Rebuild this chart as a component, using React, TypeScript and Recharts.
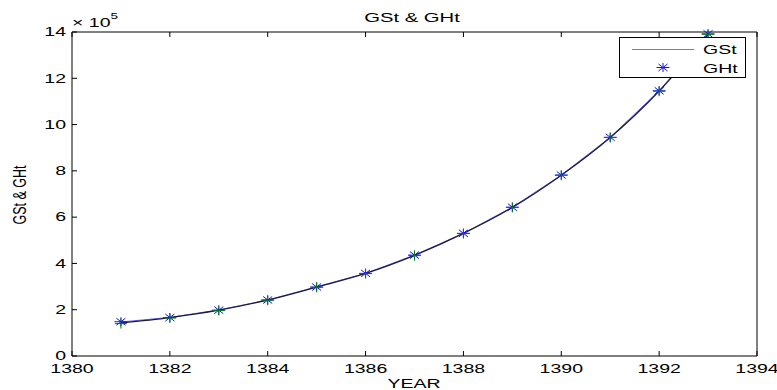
import React from "react";
import { LineChart, Line, XAxis, YAxis } from "recharts";

// values in units of 1e5
const years = [1381, 1382, 1383, 1384, 1385, 1386, 1387, 1388, 1389, 1390, 1391, 1392, 1393];
const gst = [1.47, 1.67, 1.99, 2.42, 2.99, 3.57, 4.36, 5.3, 6.43, 7.82, 9.45, 11.46, 13.91];
const ght = [1.48, 1.66, 1.98, 2.42, 2.98, 3.57, 4.36, 5.3, 6.43, 7.82, 9.45, 11.46, 13.92];
const fitted = [1.43, 1.66, 1.98, 2.42, 2.98, 3.57, 4.35, 5.3, 6.42, 7.81, 9.44, 11.45, 13.9];
const observed = [1.4, 1.64, 1.97, 2.41, 2.97, 3.56, 4.34, 5.29, 6.42, 7.81, 9.44, 11.44, 13.9];

const xTicks = [1380, 1382, 1384, 1386, 1388, 1390, 1392, 1394];
const yTicks = [0, 2, 4, 6, 8, 10, 12, 14];

const data = years.map((year, i) => ({
  year,
  gst: gst[i],
  ght: ght[i],
  fitted: fitted[i],
  observed: observed[i],
}));

const FONT = "'Liberation Sans', Arial, Helvetica, sans-serif";
const TICK = 5;
const SX = 1.5; // the original figure is stretched horizontally

const BottomTick = (props: any) => {
  const { x, y, payload } = props;
  return (
    <g>
      <line x1={x} x2={x} y1={y} y2={y - TICK} stroke="#000" />
      <text
        transform={`translate(${x},${y + 16.5}) scale(${SX},1)`}
        textAnchor="middle"
        fontSize={13}
        fontFamily={FONT}
        fill="#000"
      >
        {payload.value}
      </text>
    </g>
  );
};

const TopTick = (props: any) => {
  const { x, y } = props;
  return <line x1={x} x2={x} y1={y} y2={y + TICK} stroke="#000" />;
};

const LeftTick = (props: any) => {
  const { x, y, payload } = props;
  return (
    <g>
      <line x1={x} x2={x + TICK} y1={y} y2={y} stroke="#000" />
      <text
        transform={`translate(${x - 6},${y + 4.3}) scale(${SX},1)`}
        textAnchor="end"
        fontSize={13}
        fontFamily={FONT}
        fill="#000"
      >
        {payload.value}
      </text>
    </g>
  );
};

const RightTick = (props: any) => {
  const { x, y } = props;
  return <line x1={x} x2={x - TICK} y1={y} y2={y} stroke="#000" />;
};

const Star = ({ cx, cy, color = "#1010ff" }: { cx: number; cy: number; color?: string }) => (
  <g stroke={color} strokeWidth={1}>
    <line x1={cx - 6.5} x2={cx + 6.5} y1={cy} y2={cy} />
    <line x1={cx} x2={cx} y1={cy - 4.5} y2={cy + 4.5} />
    <line x1={cx - 4.5} x2={cx + 4.5} y1={cy - 3.5} y2={cy + 3.5} />
    <line x1={cx - 4.5} x2={cx + 4.5} y1={cy + 3.5} y2={cy - 3.5} />
  </g>
);

const Plus = ({ cx, cy }: { cx: number; cy: number }) => (
  <g stroke="#007a00" strokeWidth={1}>
    <line x1={cx - 6} x2={cx + 6} y1={cy} y2={cy} />
    <line x1={cx} x2={cx} y1={cy - 5} y2={cy + 5} />
  </g>
);

const App = () => {
  return (
    <div style={{ position: "absolute", left: 0, top: 0, width: 777, height: 390, background: "#fff" }}>
      <LineChart
        width={777}
        height={390}
        data={data}
        margin={{ top: 31, right: 19, left: 12, bottom: 0 }}
      >
        <XAxis
          dataKey="year"
          type="number"
          domain={[1380, 1394]}
          ticks={xTicks}
          interval={0}
          height={34}
          tickSize={0}
          tickMargin={0}
          tick={BottomTick}
          axisLine={{ stroke: "#000" }}
        />
        <XAxis
          xAxisId="top"
          orientation="top"
          dataKey="year"
          type="number"
          domain={[1380, 1394]}
          ticks={xTicks}
          interval={0}
          height={1}
          tickSize={0}
          tickMargin={0}
          tick={TopTick}
          axisLine={{ stroke: "#000" }}
        />
        <YAxis
          type="number"
          domain={[0, 14]}
          ticks={yTicks}
          interval={0}
          width={60}
          tickSize={0}
          tickMargin={0}
          tick={LeftTick}
          axisLine={{ stroke: "#000" }}
        />
        <YAxis
          yAxisId="right"
          orientation="right"
          type="number"
          domain={[0, 14]}
          ticks={yTicks}
          interval={0}
          width={1}
          tickSize={0}
          tickMargin={0}
          tick={RightTick}
          axisLine={{ stroke: "#000" }}
        />
        <Line
          dataKey="gst"
          type="linear"
          stroke="#6a6aff"
          strokeWidth={1}
          dot={false}
          activeDot={false}
          isAnimationActive={false}
        />
        <Line
          dataKey="ght"
          stroke="none"
          dot={(p: any) => <Star key={`s-${p.index}`} cx={p.cx} cy={p.cy} />}
          activeDot={false}
          isAnimationActive={false}
        />
        <Line
          dataKey="observed"
          stroke="none"
          dot={(p: any) => <Plus key={`p-${p.index}`} cx={p.cx} cy={p.cy} />}
          activeDot={false}
          isAnimationActive={false}
        />
        <Line
          dataKey="fitted"
          type="monotone"
          stroke="#1c1c3a"
          strokeWidth={1.3}
          dot={false}
          activeDot={false}
          isAnimationActive={false}
        />
      </LineChart>

      <svg
        width={777}
        height={390}
        style={{ position: "absolute", left: 0, top: 0, pointerEvents: "none" }}
        fontFamily={FONT}
      >
        <text transform={`translate(412,22) scale(${SX},1)`} textAnchor="middle" fontSize={13.5}>
          GSt &amp; GHt
        </text>
        <text transform={`translate(414,388) scale(${SX},1)`} textAnchor="middle" fontSize={13}>
          YEAR
        </text>
        <text transform="translate(26,195) rotate(-90) scale(1,1.4)" textAnchor="middle" fontSize={12.5}>
          GSt &amp; GHt
        </text>
        <g transform={`translate(72,27) scale(${SX},1)`}>
          <text fontSize={13}>
            × 10
            <tspan dy={-8} fontSize={9}>5</tspan>
          </text>
        </g>

        <rect x={619.5} y={37.5} width={126} height={40} fill="#fff" stroke="#000" />
        <line x1={632} x2={694} y1={49.5} y2={49.5} stroke="#7070ff" />
        <Star cx={663} cy={67.5} />
        <text transform={`translate(703,54) scale(${SX},1)`} fontSize={13}>GSt</text>
        <text transform={`translate(703,72.5) scale(${SX},1)`} fontSize={13}>GHt</text>
      </svg>
    </div>
  );
};

export default App;
